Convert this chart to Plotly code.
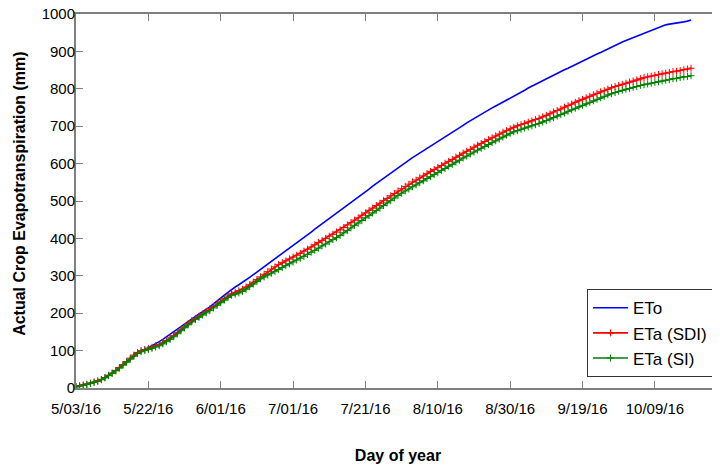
import plotly.graph_objects as go

# Day index since 5/03/16 (daily values)
days = list(range(0, 171))

eto = [4, 6, 8, 10, 13, 16, 19, 23, 28,
       34, 40, 47, 55, 63, 71, 79, 86,
       92, 97, 103, 108, 113, 119, 124, 130,
       137, 144, 151, 158, 165, 172, 179, 186,
       192, 198, 204, 210, 217, 225, 232, 240,
       248, 256, 264, 270, 276, 282, 289, 296,
       303, 310, 317, 324, 331, 338, 346, 353,
       360, 367, 374, 381, 389, 396, 403, 410,
       417, 425, 432, 439, 446, 453, 461, 468,
       475, 482, 489, 497, 504, 511, 518, 525,
       532, 540, 547, 554, 561, 568, 575, 583,
       590, 597, 603, 609, 616, 622, 628, 634,
       640, 647, 653, 659, 665, 671, 678, 684,
       690, 696, 702, 709, 715, 721, 727, 733,
       738, 743, 749, 754, 759, 765, 770, 775,
       781, 786, 791, 796, 802, 807, 812, 818,
       822, 827, 832, 836, 841, 846, 851, 855,
       860, 865, 869, 874, 879, 883, 888, 893,
       897, 902, 907, 912, 916, 921, 925, 929,
       933, 937, 940, 944, 948, 952, 956, 960,
       964, 968, 971, 973, 974, 976, 977, 979, 981, 984]

eta_sdi = [4, 6, 8, 10, 13, 16, 19, 23, 28,
           34, 40, 47, 55, 63, 71, 80, 88,
           95, 100, 103, 106, 109, 113, 116, 121,
           127, 134, 140, 148, 156, 164, 172, 180,
           186, 192, 198, 205, 212, 218, 225, 232,
           239, 246, 252, 256, 260, 264, 270, 276,
           283, 290, 297, 304, 311, 318, 324, 330,
           335, 340, 345, 350, 355, 360, 366, 371,
           377, 383, 389, 394, 400, 406, 411, 417,
           423, 429, 436, 442, 449, 455, 462, 468,
           475, 481, 488, 494, 501, 507, 514, 520,
           527, 533, 539, 545, 551, 556, 562, 567,
           573, 579, 584, 590, 595, 601, 606, 611,
           617, 622, 628, 633, 638, 644, 649, 654,
           659, 664, 669, 674, 679, 684, 688, 693,
           697, 701, 704, 707, 711, 714, 718, 721,
           725, 729, 733, 738, 742, 746, 751, 755,
           759, 764, 768, 772, 776, 780, 784, 788,
           792, 795, 799, 803, 806, 809, 812, 815,
           818, 821, 824, 827, 830, 832, 834, 836,
           838, 840, 842, 844, 846, 847, 849, 851, 853, 855]

eta_si = [3, 5, 7, 9, 12, 15, 18, 22, 27,
          33, 39, 46, 53, 61, 69, 77, 85,
          92, 97, 100, 103, 106, 110, 113, 118,
          124, 130, 137, 145, 153, 161, 169, 177,
          183, 189, 195, 201, 207, 214, 221, 228,
          235, 242, 248, 251, 254, 258, 264, 271,
          278, 285, 292, 297, 302, 307, 312, 317,
          322, 327, 332, 337, 342, 347, 352, 357,
          363, 368, 374, 380, 385, 391, 397, 402,
          408, 415, 421, 428, 435, 441, 448, 455,
          461, 468, 475, 481, 488, 495, 501, 508,
          515, 521, 527, 532, 538, 543, 549, 554,
          560, 565, 571, 576, 582, 587, 593, 598,
          604, 609, 615, 620, 626, 631, 636, 641,
          646, 651, 656, 661, 666, 671, 676, 681,
          685, 688, 692, 695, 698, 701, 704, 707,
          711, 715, 719, 723, 727, 731, 735, 740,
          744, 748, 752, 756, 760, 764, 768, 772,
          776, 780, 784, 787, 790, 793, 796, 799,
          801, 804, 806, 809, 811, 813, 815, 817,
          819, 821, 823, 825, 827, 828, 830, 832, 833, 835]

tick_vals = [0, 20, 40, 60, 80, 100, 120, 140, 160]
tick_text = ["5/03/16", "5/22/16", "6/01/16", "7/01/16", "7/21/16",
             "8/10/16", "8/30/16", "9/19/16", "10/09/16"]
y_ticks = [0, 100, 200, 300, 400, 500, 600, 700, 800, 900, 1000]

FONT = "Liberation Sans, Arial, sans-serif"

fig = go.Figure()
fig.add_trace(go.Scatter(x=days, y=eto, mode="lines", name="ETo",
                         line=dict(color="#0000ff", width=1.6)))
fig.add_trace(go.Scatter(x=days, y=eta_sdi, mode="lines+markers", name="ETa (SDI)",
                         line=dict(color="#ff0000", width=1.6),
                         marker=dict(symbol="cross-thin", size=5,
                                     line=dict(color="#ff0000", width=1))))
fig.add_trace(go.Scatter(x=days, y=eta_si, mode="lines+markers", name="ETa (SI)",
                         line=dict(color="#008000", width=1.6),
                         marker=dict(symbol="cross-thin", size=5,
                                     line=dict(color="#008000", width=1))))

fig.update_layout(
    width=712, height=458,
    margin=dict(l=68, r=0, t=6, b=78),
    paper_bgcolor="white", plot_bgcolor="white",
    font=dict(family=FONT, size=15, color="black"),
    showlegend=True,
    legend=dict(x=0.7935, y=0.264, xanchor="left", yanchor="top",
                bgcolor="white", bordercolor="#333333", borderwidth=1,
                font=dict(family=FONT, size=17, color="black"),
                tracegroupgap=0, itemwidth=35),
    annotations=[dict(text="<b>Actual Crop Evapotranspiration (mm)</b>",
                      xref="paper", yref="paper", x=-0.088, y=0.52,
                      xanchor="center", yanchor="middle", textangle=-90,
                      showarrow=False,
                      font=dict(family=FONT, size=16, color="black"))],
)
fig.update_xaxes(
    range=[0, 178], tickvals=tick_vals, ticktext=tick_text,
    automargin=False,
    showgrid=False, zeroline=False,
    showline=True, linecolor="#7f7f7f", linewidth=2, mirror="ticks",
    ticks="inside", ticklen=7, tickcolor="#7f7f7f", tickwidth=1,
    ticklabelstandoff=6, ticklabeloverflow="allow",
    tickfont=dict(family=FONT, size=15, color="black"),
    title=dict(text="<b>Day of year</b>", standoff=34,
               font=dict(family=FONT, size=16, color="black")),
)
fig.update_yaxes(
    range=[0, 1000], tickvals=y_ticks,
    automargin=False,
    showgrid=False, zeroline=False,
    showline=True, linecolor="#7f7f7f", linewidth=2, mirror=False,
    ticks="inside", ticklen=7, tickcolor="#7f7f7f", tickwidth=1,
    ticklabelstandoff=-4, ticklabeloverflow="allow",
    tickfont=dict(family=FONT, size=15, color="black"),
)

fig.write_html("out.html")
